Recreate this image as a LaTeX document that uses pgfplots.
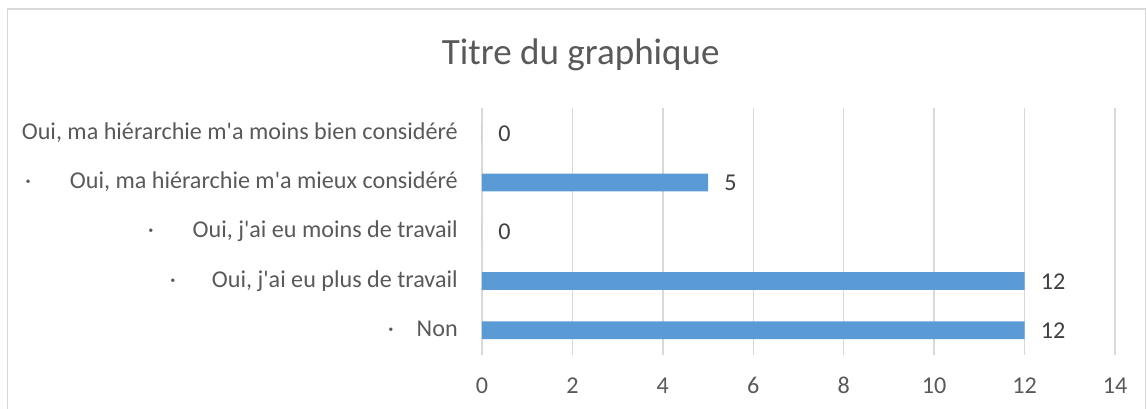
\documentclass[border=0pt]{standalone}
\usepackage{pgfplots}
\pgfplotsset{compat=1.18}
\usepackage{fontspec}
\setmainfont{Carlito}
\definecolor{barBlue}{HTML}{5B9BD5}
\definecolor{gridGray}{HTML}{D9D9D9}
\definecolor{txtGray}{HTML}{595959}
\definecolor{valGray}{HTML}{404040}
\newcommand{\ap}{\textquotesingle}

\begin{document}
\begin{tikzpicture}
% page = 1147 x 408 px, 1px = 0.75pt
\useasboundingbox (0,0) rectangle (860.25pt,306pt);
\draw[gridGray, line width=0.9pt] (5.8pt,-5pt) rectangle (859.2pt,299.3pt);
\begin{axis}[
    at={(361.5pt,39.75pt)},
    anchor=south west,
    scale only axis,
    width=474.75pt,
    height=184.95pt,
    xbar,
    bar width=13.3pt,
    xmin=0, xmax=14,
    ymin=-0.5, ymax=4.5,
    xtick={0,2,...,14},
    ytick={0,1,2,3,4},
    yticklabels={
        {·\hspace{17pt}Non},
        {·\hspace{27pt}Oui, j\ap ai eu plus de travail},
        {·\hspace{29pt}Oui, j\ap ai eu moins de travail},
        {·\hspace{29pt}Oui, ma hiérarchie m\ap a mieux considéré},
        {Oui, ma hiérarchie m\ap a moins bien considéré}
    },
    axis line style={draw=none},
    major tick length=0pt,
    xmajorgrids=true,
    grid style={gridGray, line width=1pt},
    /pgf/number format/assume math mode=true,
    tick label style={font=\fontsize{18.1}{21}\selectfont, text=txtGray, inner sep=0pt},
    xticklabel style={anchor=base, yshift=-28.5pt},
    yticklabel style={anchor=base east, xshift=-18pt, yshift=-4.5pt},
    title={Titre du graphique},
    title style={at={(rel axis cs:0.156,1.145)}, anchor=base,
        font=\fontsize{27.8}{32}\selectfont, text=txtGray},
    nodes near coords,
    every node near coord/.append style={anchor=base west, xshift=12pt, yshift=-6pt,
        inner sep=0pt, font=\fontsize{18.1}{21}\selectfont, text=valGray},
]
\addplot[fill=barBlue, draw=none] coordinates {
    (12,0)
    (12,1)
    (0,2)
    (5,3)
    (0,4)
};
\end{axis}
\end{tikzpicture}
\end{document}
